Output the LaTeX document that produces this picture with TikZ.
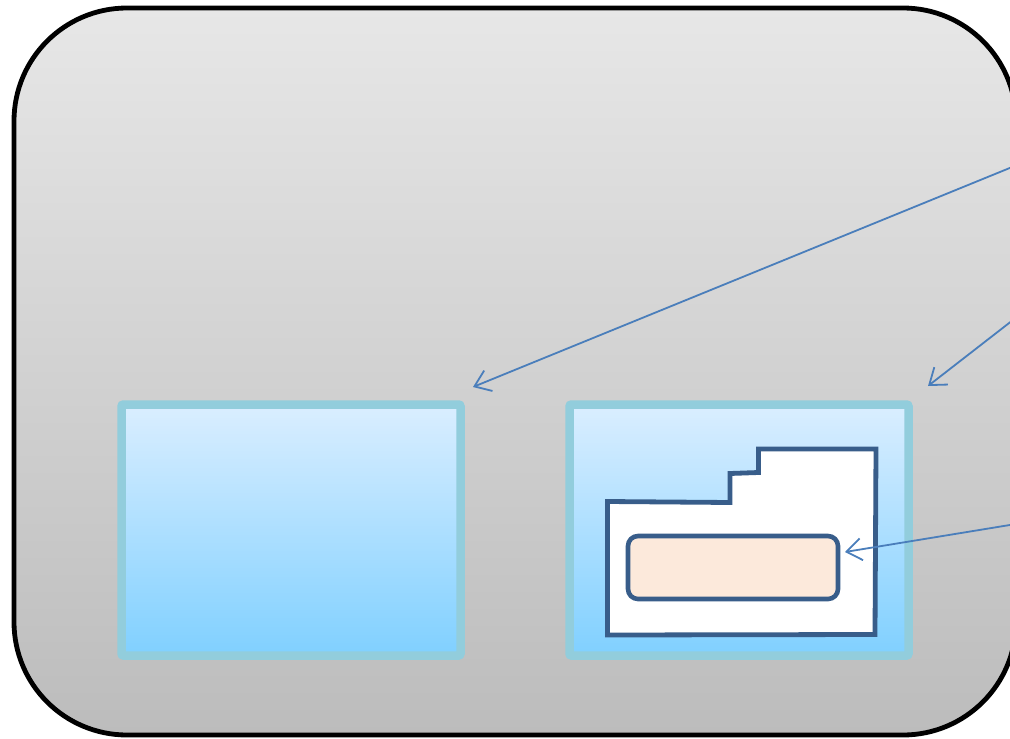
\documentclass[tikz,border=0pt]{standalone}
\usetikzlibrary{arrows.meta}
\definecolor{outerTop}{RGB}{231,231,231}
\definecolor{outerBot}{RGB}{188,188,188}
\definecolor{boxTop}{RGB}{218,238,255}
\definecolor{boxBot}{RGB}{128,208,255}
\definecolor{boxEdge}{RGB}{146,205,220}
\definecolor{darkEdge}{RGB}{56,93,138}
\definecolor{peach}{RGB}{252,233,219}
\definecolor{arrowBlue}{RGB}{74,126,187}
\tikzset{
  outerbox/.style={draw=black, line width=4.8pt, rounded corners=113pt, top color=outerTop, bottom color=outerBot},
  bluebox/.style={draw=boxEdge, line width=8.5pt, rounded corners=2pt, top color=boxTop, bottom color=boxBot, inner sep=0pt, outer sep=0pt},
  stepshape/.style={draw=darkEdge, line width=4.8pt, fill=white, line join=miter},
  innerbox/.style={draw=darkEdge, line width=4.6pt, rounded corners=10pt, fill=peach, inner sep=0pt, outer sep=0pt},
  callout/.style={draw=arrowBlue, line width=1.8pt, -{Straight Barb[length=15pt, width=22pt, line width=1.8pt]}}
}
\begin{document}
\begin{tikzpicture}[x=1pt, y=-1pt]
\useasboundingbox (0,0) rectangle (1010,739);
\clip (0,0) rectangle (1010,739);
% outer container
\draw[outerbox] (14,8) rectangle (1016,735);
% left and right boxes
\node[bluebox, minimum width=339pt, minimum height=251pt, anchor=north west] (lbox) at (121.5,404.5) {};
\node[bluebox, minimum width=339pt, minimum height=251pt, anchor=north west] (rbox) at (569.5,404.5) {};
% stepped white shape
\draw[stepshape] (607.5,635) -- (607.5,501.5) -- (730,502.5) -- (730,473.5) -- (758.5,472.5) -- (758.5,449) -- (876,449) -- (875,634.5) -- cycle;
% inner peach box
\node[innerbox, minimum width=210pt, minimum height=63pt, anchor=north west] (inner) at (628,536) {};
% callout coordinates
\coordinate (s1) at (1022,163);
\coordinate (t1) at (473,387);
\coordinate (s2) at (1022,313);
\coordinate (t2) at (928,386);
\coordinate (s3) at (1022,523);
\coordinate (t3) at (845,552);
\draw[callout] (s1) -- (t1);
\draw[callout] (s2) -- (t2);
\draw[callout] (s3) -- (t3);
\end{tikzpicture}
\end{document}
